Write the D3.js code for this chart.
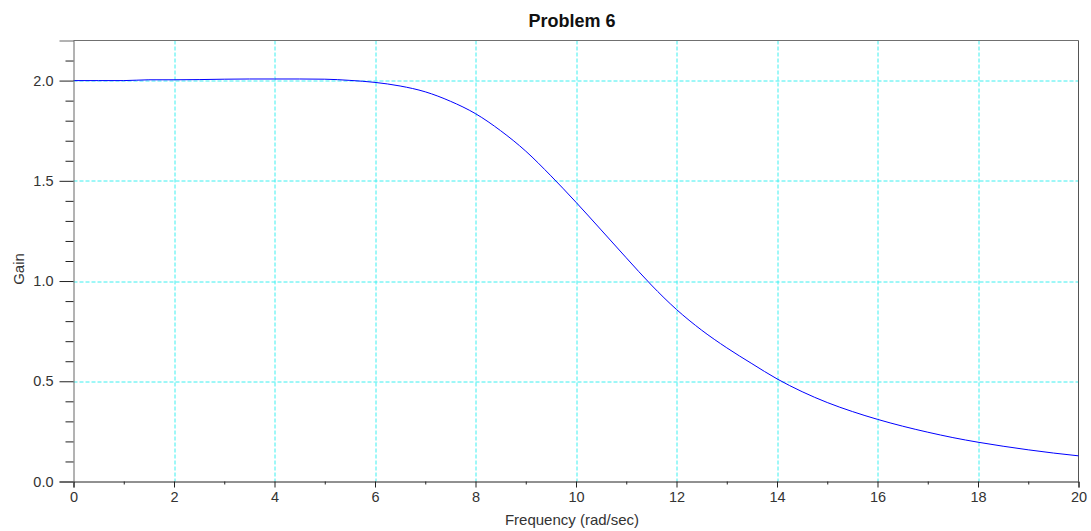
<!DOCTYPE html>
<html>
<head>
<meta charset="utf-8">
<script src="https://cdn.jsdelivr.net/npm/d3@7"></script>
<style>
  body { margin: 0; background: #fff; }
  svg { display: block; font-family: "Liberation Sans", Arial, sans-serif; }
</style>
</head>
<body>
<div id="chart"></div>
<script>
// chart size
const width = 1091; const height = 531;
const margin = {top: 40.5, right: 12.5, bottom: 49.5, left: 73.5};
const innerWidth = width - margin.left - margin.right;
const innerHeight = height - margin.top - margin.bottom;

// data
const freq = [0, 0.5, 1, 1.5, 2, 2.5, 3, 3.5, 4, 4.5, 5, 5.5, 6, 6.5, 7, 7.5, 8, 8.5, 9, 9.5,
    10, 10.5, 11, 11.5, 12, 12.5, 13, 13.5, 14, 14.5, 15, 15.5, 16, 16.5, 17, 17.5, 18, 18.5, 19, 19.5, 20];
const gain = [2.000, 2.000, 2.000, 2.004, 2.004, 2.005, 2.007, 2.008, 2.008, 2.008, 2.007, 2.001, 1.991, 1.973, 1.944, 1.897, 1.835, 1.750, 1.648, 1.525,
    1.393, 1.255, 1.116, 0.980, 0.858, 0.755, 0.667, 0.588, 0.512, 0.448, 0.394, 0.349, 0.310, 0.276, 0.246, 0.219, 0.196, 0.176, 0.158, 0.142, 0.128];
const xMajor = [0, 2, 4, 6, 8, 10, 12, 14, 16, 18, 20];
const xMinor = [1, 3, 5, 7, 9, 11, 13, 15, 17, 19];
const yMajor = [0, 0.5, 1.0, 1.5, 2.0];
const yMinor = [0.1, 0.2, 0.3, 0.4, 0.6, 0.7, 0.8, 0.9, 1.1, 1.2, 1.3, 1.4, 1.6, 1.7, 1.8, 1.9, 2.1];
const xGrid = [2, 4, 6, 8, 10, 12, 14, 16, 18];
const yGrid = [0.5, 1.0, 1.5, 2.0];

const svg = d3.select('#chart')
    .append('svg')
        .attr('width', width)
        .attr('height', height);
const plotG = svg.append('g')
    .attr('transform', `translate(${margin.left}, ${margin.top})`);

const x = d3.scaleLinear().domain([0, 20]).range([0, innerWidth]);
const y = d3.scaleLinear().domain([0, 2.2]).range([innerHeight, 0]);

// grid
const gridColor = '#3ef0f0';
plotG.selectAll('.vgrid')
    .data(xGrid)
    .enter().append('line')
        .attr('x1', d => Math.round(x(d)) + 0.5)
        .attr('x2', d => Math.round(x(d)) + 0.5)
        .attr('y1', 0)
        .attr('y2', innerHeight)
        .attr('stroke', gridColor)
        .attr('stroke-dasharray', '4,2');
plotG.selectAll('.hgrid')
    .data(yGrid)
    .enter().append('line')
        .attr('x1', 0)
        .attr('x2', innerWidth)
        .attr('y1', d => Math.round(y(d)) + 0.5)
        .attr('y2', d => Math.round(y(d)) + 0.5)
        .attr('stroke', gridColor)
        .attr('stroke-dasharray', '4,2');

// frame top and right
plotG.append('line')
    .attr('x1', 0).attr('x2', innerWidth)
    .attr('y1', 0).attr('y2', 0)
    .attr('stroke', '#707070');
plotG.append('line')
    .attr('x1', innerWidth).attr('x2', innerWidth)
    .attr('y1', 0).attr('y2', innerHeight)
    .attr('stroke', '#555');

// curve
const line = d3.line()
    .x((d, i) => x(freq[i]))
    .y(d => y(d))
    .curve(d3.curveMonotoneX);
plotG.append('path')
    .datum(gain)
    .attr('d', line)
    .attr('fill', 'none')
    .attr('stroke', '#0000ff')
    .attr('stroke-width', 1);

// x axis
const xAxis = plotG.append('g')
    .attr('transform', `translate(0, ${innerHeight})`)
    .call(d3.axisBottom(x).tickValues(xMajor).tickSize(6).tickPadding(4).tickFormat(d3.format('d')));
plotG.append('g')
    .attr('transform', `translate(0, ${innerHeight})`)
    .call(d3.axisBottom(x).tickValues(xMinor).tickSize(3).tickFormat(''))
    .select('.domain').remove();
xAxis.select('.domain').attr('stroke', '#222');

// y axis
const yAxis = plotG.append('g')
    .call(d3.axisLeft(y).tickValues(yMajor).tickSize(14).tickPadding(6).tickFormat(d3.format('.1f')));
plotG.append('g')
    .call(d3.axisLeft(y).tickValues(yMinor).tickSize(8).tickFormat(''))
    .select('.domain').remove();
yAxis.select('.domain').attr('stroke', '#666');

plotG.selectAll('.tick text')
    .attr('font-size', '14.5px')
    .attr('fill', '#333')
    .attr('font-family', '"Liberation Sans", Arial, sans-serif');
plotG.selectAll('.tick line').attr('stroke', '#222');

// labels
svg.append('text')
    .attr('x', 572)
    .attr('y', 26.5)
    .attr('text-anchor', 'middle')
    .attr('font-size', '18px')
    .attr('font-weight', 'bold')
    .attr('fill', '#111')
    .text('Problem 6');
svg.append('text')
    .attr('x', 572)
    .attr('y', 525)
    .attr('text-anchor', 'middle')
    .attr('font-size', '15px')
    .attr('fill', '#333')
    .text('Frequency (rad/sec)');
svg.append('text')
    .attr('transform', 'translate(24, 269) rotate(-90)')
    .attr('text-anchor', 'middle')
    .attr('font-size', '15px')
    .attr('fill', '#333')
    .text('Gain');
</script>
</body>
</html>
